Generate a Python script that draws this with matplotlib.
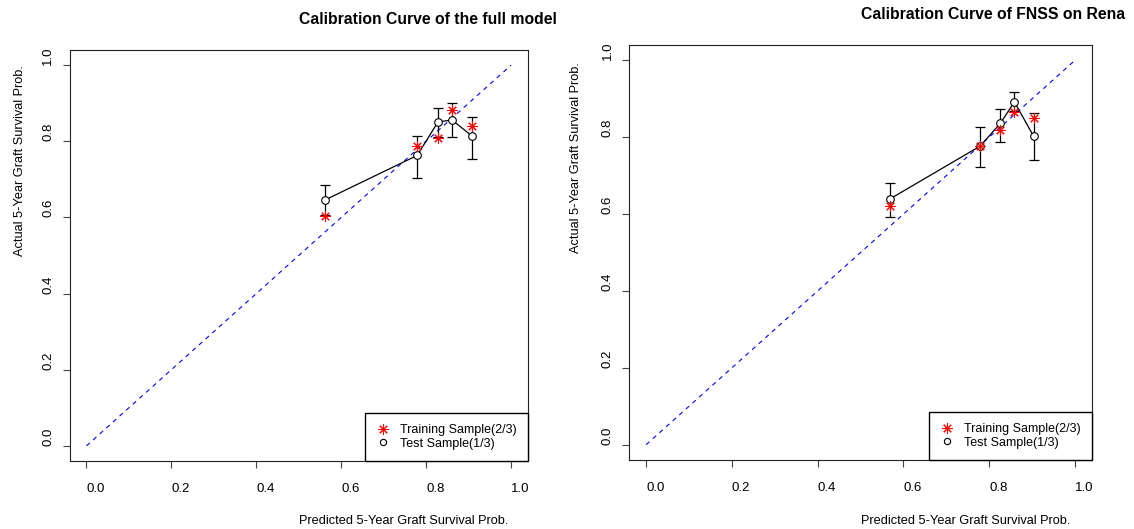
import matplotlib
matplotlib.use("Agg")
import matplotlib.pyplot as plt
from matplotlib.lines import Line2D

plt.rcParams["font.family"] = ["Liberation Sans", "DejaVu Sans"]

# left panel: full model
full_pred = [0.562, 0.779, 0.828, 0.861, 0.907]
full_train = [0.603, 0.788, 0.808, 0.883, 0.839]
full_test = [0.646, 0.763, 0.851, 0.856, 0.815]
full_lo = [0.606, 0.703, 0.812, 0.811, 0.754]
full_hi = [0.686, 0.813, 0.888, 0.901, 0.864]

# right panel: FNSS
fnss_pred = [0.568, 0.779, 0.826, 0.859, 0.904]
fnss_train = [0.620, 0.777, 0.819, 0.866, 0.849]
fnss_test = [0.639, 0.777, 0.836, 0.892, 0.802]
fnss_lo = [0.593, 0.722, 0.787, 0.867, 0.740]
fnss_hi = [0.680, 0.826, 0.874, 0.917, 0.862]

ticks = [0.0, 0.2, 0.4, 0.6, 0.8, 1.0]
tick_labels = ["0.0", "0.2", "0.4", "0.6", "0.8", "1.0"]


def calib_panel(ax, pred, train, test, lo, hi, title, ylab_x):
    ax.plot([0, 1], [0, 1], color="blue", ls=(0, (4, 4)), lw=0.8, zorder=1)
    err = [[t - l for t, l in zip(test, lo)], [h - t for t, h in zip(test, hi)]]
    ax.errorbar(pred, test, yerr=err, fmt="none", ecolor="black", elinewidth=0.9,
                capsize=3.5, capthick=0.9, zorder=2)
    ax.plot(pred, test, color="black", lw=0.9, zorder=3)
    ax.plot(pred, test, "o", ms=5.5, mfc="white", mec="black", mew=0.8, ls="none", zorder=4)
    ax.plot(pred, train, marker=(8, 2, 0), ms=7.5, mec="red", mew=0.75, ls="none", zorder=5)

    ax.set_xlim(-0.04, 1.04)
    ax.set_ylim(-0.04, 1.04)
    ax.set_xticks(ticks)
    ax.set_xticklabels(tick_labels, ha="left")
    ax.set_yticks(ticks)
    ax.set_yticklabels(tick_labels, rotation=90, va="bottom")
    ax.tick_params(direction="out", length=5, width=0.8, labelsize=9.5, color="#444444")
    ax.tick_params(axis="x", pad=11)
    ax.tick_params(axis="y", pad=6)
    for s in ax.spines.values():
        s.set_linewidth(0.8)
        s.set_color("#222222")

    ax.set_title(title, fontsize=11.3, fontweight="bold", ha="left", pad=19)
    ax.set_xlabel("Predicted 5-Year Graft Survival Prob.", fontsize=9.2, ha="left", x=0.5)
    ax.xaxis.set_label_coords(0.5, -0.132)
    ax.set_ylabel("Actual 5-Year Graft Survival Prob.", fontsize=9.2, ha="left", y=0.5)
    ax.yaxis.set_label_coords(ylab_x, 0.5)

    handles = [
        Line2D([], [], marker=(8, 2, 0), ms=7.5, mec="red", mew=0.75, ls="none"),
        Line2D([], [], marker="o", ms=4.5, mfc="white", mec="black", mew=0.8, ls="none"),
    ]
    ax.legend(handles, ["Training Sample(2/3)", "Test Sample(1/3)"], loc="lower right",
              borderaxespad=0, fancybox=False, edgecolor="black", framealpha=1,
              fontsize=9, handlelength=1.0, handletextpad=0.9, borderpad=0.9,
              labelspacing=0.15)


fig = plt.figure(figsize=(11.34, 5.29), dpi=100)
ax1 = fig.add_axes([0.0613, 0.1285, 0.4043, 0.777])
ax2 = fig.add_axes([0.5547, 0.1304, 0.4083, 0.7845])

calib_panel(ax1, full_pred, full_train, full_test, full_lo, full_hi,
            "Calibration Curve of the full model", -0.095)
# the title runs off the right edge of the figure in the original
calib_panel(ax2, fnss_pred, fnss_train, fnss_test, fnss_lo, fnss_hi,
            "Calibration Curve of FNSS on Rena", -0.101)

fig.savefig("out.png", dpi=100)
